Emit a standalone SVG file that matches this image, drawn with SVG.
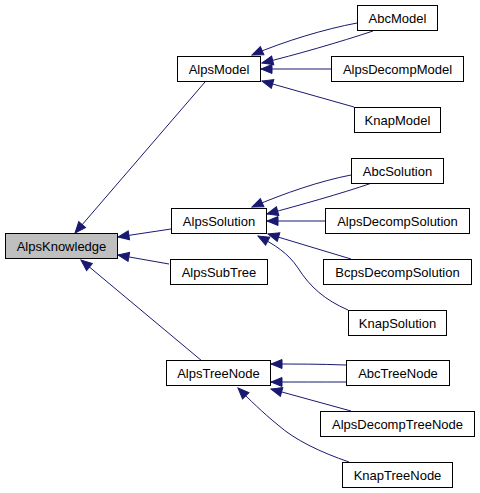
<svg xmlns="http://www.w3.org/2000/svg" width="480" height="493" viewBox="0 0 480 493">
<style>
.box rect{fill:#ffffff;stroke:#000000;stroke-width:1}
#AlpsKnowledge rect{fill:#bfbfbf}
.box text{font-family:"Liberation Sans",Arial,sans-serif;font-size:13px;fill:#000000;text-anchor:middle}
.edges path{fill:none;stroke:#191970;stroke-width:1;marker-end:url(#arr)}
</style>
<defs>
<marker id="arr" markerUnits="userSpaceOnUse" markerWidth="13" markerHeight="11" refX="12" refY="5.5" orient="auto">
<path d="M1,1 L12,5.5 L1,10 z" fill="#191970" stroke="#191970" stroke-width="1"/>
</marker>
</defs>
<rect width="480" height="493" fill="#ffffff"/>
<g class="edges">
<path d="M205,82 L75,233"/>
<path d="M171,229 L118,237"/>
<path d="M169,264 L118,255"/>
<path d="M202,361 L81,260"/>
<path d="M357,23 C325,29 285,41 252,55"/>
<path d="M373,31 C340,42 295,55 262,63"/>
<path d="M331,69 L261,69"/>
<path d="M354,107 L262,81"/>
<path d="M351,175 C320,181 285,193 252,207"/>
<path d="M372,183 C340,194 300,205 267,214"/>
<path d="M325,221 L267,221"/>
<path d="M351,259 L268,234"/>
<path d="M348,310 C325,300 310,287 298,268 C288,253 275,245 258,236"/>
<path d="M346,365 C320,364 295,364 271,364"/>
<path d="M346,382 C320,382 295,382 271,382"/>
<path d="M351,411 L271,389"/>
<path d="M349,462 C320,452 295,440 278,425 C262,412 250,400 238,388"/>
</g>
<g id="AlpsKnowledge" class="box"><rect x="5.5" y="233.5" width="112" height="25"/><text x="61.5" y="251">AlpsKnowledge</text></g>
<g id="AlpsModel" class="box"><rect x="177.5" y="56.5" width="83" height="25"/><text x="219" y="74">AlpsModel</text></g>
<g id="AbcModel" class="box"><rect x="357.5" y="5.5" width="80" height="25"/><text x="397.5" y="23">AbcModel</text></g>
<g id="AlpsDecompModel" class="box"><rect x="331.5" y="56.5" width="132" height="25"/><text x="397.5" y="74">AlpsDecompModel</text></g>
<g id="KnapModel" class="box"><rect x="354.5" y="107.5" width="86" height="25"/><text x="397.5" y="125">KnapModel</text></g>
<g id="AbcSolution" class="box"><rect x="351.5" y="158.5" width="92" height="25"/><text x="397.5" y="176">AbcSolution</text></g>
<g id="AlpsSolution" class="box"><rect x="171.5" y="208.5" width="95" height="25"/><text x="219" y="226">AlpsSolution</text></g>
<g id="AlpsDecompSolution" class="box"><rect x="325.5" y="208.5" width="144" height="25"/><text x="397.5" y="226">AlpsDecompSolution</text></g>
<g id="BcpsDecompSolution" class="box"><rect x="323.5" y="259.5" width="148" height="25"/><text x="397.5" y="277">BcpsDecompSolution</text></g>
<g id="AlpsSubTree" class="box"><rect x="170.5" y="259.5" width="97" height="25"/><text x="219" y="277">AlpsSubTree</text></g>
<g id="KnapSolution" class="box"><rect x="348.5" y="310.5" width="98" height="25"/><text x="397.5" y="328">KnapSolution</text></g>
<g id="AlpsTreeNode" class="box"><rect x="166.5" y="360.5" width="104" height="25"/><text x="218.5" y="378">AlpsTreeNode</text></g>
<g id="AbcTreeNode" class="box"><rect x="346.5" y="360.5" width="103" height="25"/><text x="398" y="378">AbcTreeNode</text></g>
<g id="AlpsDecompTreeNode" class="box"><rect x="320.5" y="411.5" width="154" height="25"/><text x="397.5" y="429">AlpsDecompTreeNode</text></g>
<g id="KnapTreeNode" class="box"><rect x="342.5" y="462.5" width="110" height="25"/><text x="397.5" y="480">KnapTreeNode</text></g>
</svg>
